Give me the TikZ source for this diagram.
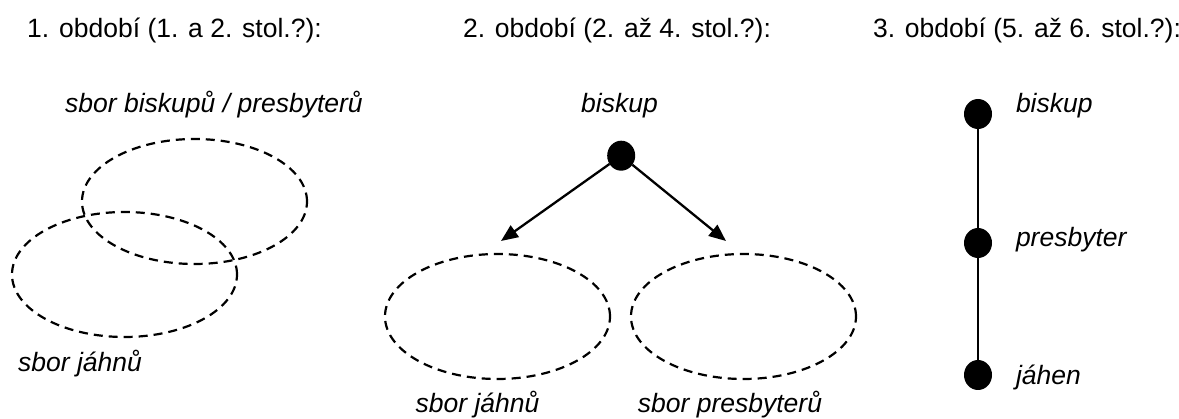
\documentclass[tikz,border=0pt]{standalone}
\usepackage{fontspec}
\setmainfont{Liberation Sans}
\usetikzlibrary{arrows.meta,shapes.geometric}
\begin{document}
\begin{tikzpicture}[x=1pt,y=-1pt,
  every node/.style={inner sep=0pt,outer sep=0pt},
  title/.style={anchor=base,font=\fontsize{26.5}{32}\selectfont},
  lab/.style={anchor=base,font=\fontsize{26.5}{32}\selectfont\itshape},
  rlab/.style={anchor=base west,font=\fontsize{26.5}{32}\selectfont\itshape},
  group/.style={ellipse,draw,dash pattern=on 9pt off 6pt,line width=2.2pt,minimum width=225pt,minimum height=125pt},
  dot/.style={ellipse,fill=black,minimum width=28pt,minimum height=30pt},
  arr/.style={line width=2.3pt,-{Triangle[length=17pt,width=14pt]}},
  link/.style={line width=2.3pt}
]
\useasboundingbox (0,0) rectangle (1179,419);
% titles
\node[title] (t1) at (174.5,38) {1. období (1. a 2. stol.?):};
\node[title] (t2) at (617,38) {2. období (2. až 4. stol.?):};
\node[title] (t3) at (1027,38) {3. období (5. až 6. stol.?):};
% period 1
\node[group] (ea) at (194.5,201.5) {};
\node[group] (eb) at (124.5,274.5) {};
\node[lab] (la) at (214,113) {sbor biskupů / presbyterů};
\node[lab] (lb) at (80,372) {sbor jáhnů};
% period 2
\node[lab] (mb) at (619.5,113) {biskup};
\node[dot] (md) at (621.2,155.7) {};
\coordinate (tl) at (501,241);
\coordinate (tr) at (726,241);
\draw[arr] (md) -- (tl);
\draw[arr] (md) -- (tr);
\node[group] (ec) at (497.5,316.5) {};
\node[group] (ed) at (743.5,316.5) {};
\node[lab] (lc) at (477.5,413) {sbor jáhnů};
\node[lab] (ld) at (730,413) {sbor presbyterů};
% period 3
\node[dot] (d1) at (978,114) {};
\node[dot] (d2) at (978,243) {};
\node[dot] (d3) at (978,375) {};
\draw[link] (d1) -- (d2) -- (d3);
\node[rlab] (r1) at (1016,113) {biskup};
\node[rlab] (r2) at (1016,247) {presbyter};
\node[rlab] (r3) at (1016,385) {jáhen};
\end{tikzpicture}
\end{document}
